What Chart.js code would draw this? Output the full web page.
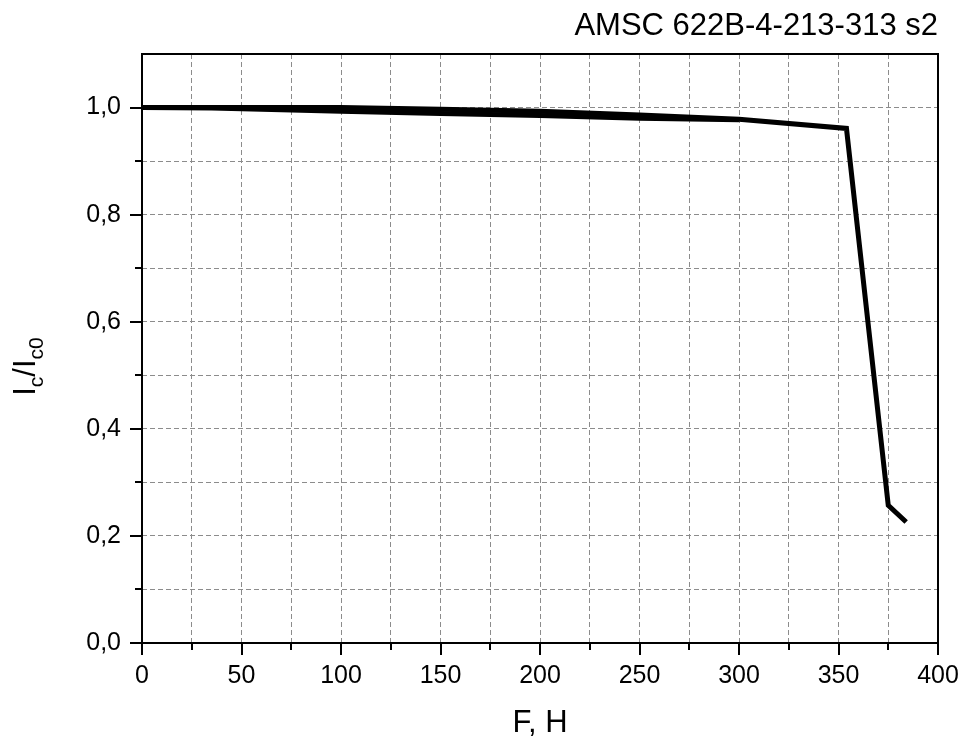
<!DOCTYPE html>
<html>
<head>
<meta charset="utf-8">
<title>AMSC 622B-4-213-313 s2</title>
<script src="https://cdn.jsdelivr.net/npm/chart.js@4/dist/chart.umd.min.js"></script>
<style>
  html, body { margin: 0; padding: 0; background: #ffffff; }
  #wrap { width: 966px; height: 742px; }
</style>
</head>
<body>
<div id="wrap"><canvas id="chart" width="966" height="742"></canvas></div>
<script>
// Critical current retention Ic/Ic0 versus applied force F (N)
const forceUp   = [0, 50, 100, 150, 200, 250, 300, 354, 375, 384];
const icRatioUp = [1.000, 1.000, 1.000, 0.997, 0.993, 0.986, 0.978, 0.961, 0.257, 0.226];
const forceBack   = [0, 35, 100, 150, 200, 250, 300];
const icRatioBack = [1.000, 0.999, 0.993, 0.989, 0.985, 0.980, 0.977];

const xTickValues = [0, 50, 100, 150, 200, 250, 300, 350, 400];
const yTickLabels = ['0,0', '0,2', '0,4', '0,6', '0,8', '1,0'];

const chartTitle = 'AMSC 622B-4-213-313 s2';
const xAxisTitle = 'F, H';

const FONT = '"Liberation Sans", Arial, sans-serif';

const toPoints = (xs, ys) => xs.map((x, i) => ({ x: x, y: ys[i] }));

// Frame, outward tick marks and text that Chart.js cannot draw directly (subscripts)
const decorations = {
  id: 'decorations',
  afterDraw(chart) {
    const ctx = chart.ctx;
    const area = chart.chartArea;
    const xs = chart.scales.x;
    const ys = chart.scales.y;
    ctx.save();
    ctx.strokeStyle = '#000';
    ctx.lineWidth = 2;
    ctx.strokeRect(area.left, area.top, area.right - area.left, area.bottom - area.top);

    ctx.beginPath();
    xs.ticks.forEach((t, i) => {
      const px = Math.round(xs.getPixelForTick(i));
      const major = Math.round(t.value) % 50 === 0;
      ctx.moveTo(px, area.bottom);
      ctx.lineTo(px, area.bottom + (major ? 12 : 7));
    });
    ys.ticks.forEach((t, i) => {
      const py = Math.round(ys.getPixelForTick(i));
      const k = Math.round(t.value * 10);
      if (k > 10) return;
      const major = k % 2 === 0;
      ctx.moveTo(area.left, py);
      ctx.lineTo(area.left - (major ? 12 : 7), py);
    });
    ctx.stroke();

    ctx.fillStyle = '#000';
    // chart title
    ctx.font = '31px ' + FONT;
    ctx.textAlign = 'right';
    ctx.textBaseline = 'alphabetic';
    ctx.fillText(chartTitle, area.right, area.top - 19);

    // x axis title
    ctx.textAlign = 'center';
    ctx.fillText(xAxisTitle, (area.left + area.right) / 2, 732);

    // y axis title: I_c / I_c0
    const parts = [
      { t: 'I', size: 31, sub: false },
      { t: 'c', size: 21, sub: true },
      { t: '/I', size: 31, sub: false },
      { t: 'c0', size: 21, sub: true }
    ];
    let total = 0;
    parts.forEach(p => { ctx.font = p.size + 'px ' + FONT; p.w = ctx.measureText(p.t).width; total += p.w; });
    const cy = (area.top + area.bottom) / 2 + 18;
    ctx.translate(35, cy);
    ctx.rotate(-Math.PI / 2);
    ctx.textAlign = 'left';
    let pos = -total / 2;
    parts.forEach(p => {
      ctx.font = p.size + 'px ' + FONT;
      ctx.fillText(p.t, pos, p.sub ? 8 : 0);
      pos += p.w;
    });
    ctx.restore();
  }
};

const lineStyle = {
  showLine: true,
  borderColor: '#000',
  borderWidth: 5,
  borderJoinStyle: 'miter',
  pointRadius: 0,
  tension: 0,
  fill: false
};

new Chart(document.getElementById('chart'), {
  type: 'scatter',
  data: {
    datasets: [
      Object.assign({ data: toPoints(forceUp, icRatioUp) }, lineStyle),
      Object.assign({ data: toPoints(forceBack, icRatioBack) }, lineStyle)
    ]
  },
  options: {
    responsive: false,
    animation: false,
    layout: { padding: { top: 54, right: 28, left: 0, bottom: 0 } },
    plugins: {
      legend: { display: false },
      tooltip: { enabled: false },
      title: { display: false }
    },
    scales: {
      x: {
        type: 'linear',
        min: 0,
        max: 400,
        afterFit: s => { s.height = 99; s.paddingLeft = 0; s.paddingRight = 0; },
        afterBuildTicks: s => {
          const ticks = [];
          for (let v = 0; v <= 400; v += 25) ticks.push({ value: v });
          s.ticks = ticks;
        },
        ticks: {
          autoSkip: false,
          maxRotation: 0,
          padding: 18,
          color: '#000',
          font: { family: FONT, size: 25 },
          callback: v => (xTickValues.includes(v) ? String(v) : '')
        },
        grid: {
          drawTicks: false,
          color: '#8c8c8c',
          lineWidth: 1
        },
        border: { display: false, dash: [5, 3] }
      },
      y: {
        type: 'linear',
        min: 0,
        max: 1.1,
        afterFit: s => { s.width = 142; s.paddingTop = 0; s.paddingBottom = 0; },
        afterBuildTicks: s => {
          const ticks = [];
          for (let k = 0; k <= 11; k++) ticks.push({ value: k / 10 });
          s.ticks = ticks;
        },
        ticks: {
          autoSkip: false,
          padding: 21,
          color: '#000',
          font: { family: FONT, size: 25 },
          callback: v => {
            const k = Math.round(v * 10);
            return (k % 2 === 0 && k <= 10) ? yTickLabels[k / 2] : '';
          }
        },
        grid: {
          drawTicks: false,
          color: '#8c8c8c',
          lineWidth: 1
        },
        border: { display: false, dash: [5, 3] }
      }
    }
  },
  plugins: [decorations]
});
</script>
</body>
</html>
